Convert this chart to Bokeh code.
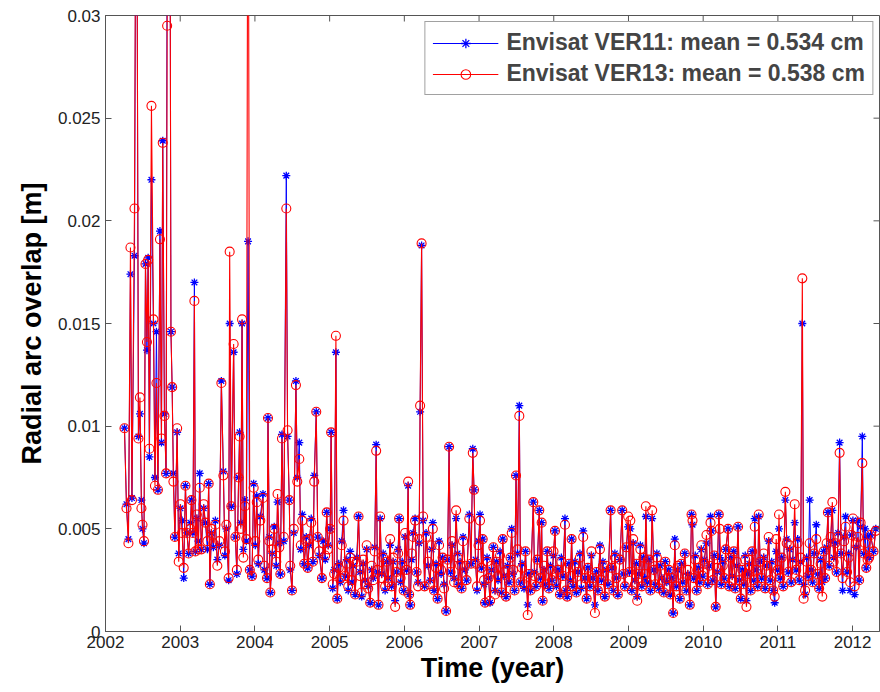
import math
from bokeh.plotting import figure
from bokeh.models import Range1d, FixedTicker, PrintfTickFormatter, Legend, LegendItem
from bokeh.embed import file_html
from bokeh.resources import INLINE

# decimal year of each arc overlap
dates = [
    # 2002
    2002.254, 2002.281, 2002.307, 2002.334, 2002.354, 2002.388, 2002.414, 2002.441, 2002.461, 2002.481,
    2002.495, 2002.515, 2002.535, 2002.555, 2002.571, 2002.588, 2002.615, 2002.642, 2002.662, 2002.682,
    2002.702, 2002.729, 2002.749, 2002.766, 2002.789, 2002.811, 2002.825, 2002.856, 2002.876, 2002.892,
    2002.909, 2002.929, 2002.959, 2002.980,
    # 2003
    2003.003, 2003.025, 2003.047, 2003.070, 2003.090, 2003.112, 2003.136, 2003.150, 2003.170, 2003.190,
    2003.203, 2003.223, 2003.243, 2003.261, 2003.283, 2003.314, 2003.337, 2003.364, 2003.381, 2003.397,
    2003.417, 2003.444, 2003.471, 2003.497, 2003.524, 2003.551, 2003.578, 2003.598, 2003.618, 2003.648,
    2003.662, 2003.684, 2003.715, 2003.738, 2003.758, 2003.782, 2003.795, 2003.811, 2003.828, 2003.845,
    2003.865, 2003.885, 2003.908, 2003.932, 2003.961, 2003.983,
    # 2004
    2004.005, 2004.025, 2004.045, 2004.072, 2004.108, 2004.126, 2004.162, 2004.175, 2004.193, 2004.206,
    2004.233, 2004.259, 2004.286, 2004.303, 2004.326, 2004.340, 2004.362, 2004.386, 2004.420, 2004.437,
    2004.460, 2004.473, 2004.496, 2004.520, 2004.549, 2004.567, 2004.594, 2004.614, 2004.634, 2004.660,
    2004.687, 2004.707, 2004.727, 2004.754, 2004.777, 2004.794, 2004.821, 2004.841, 2004.861, 2004.897,
    2004.914, 2004.941, 2004.961, 2004.981,
    # 2005
    2005.007, 2005.020, 2005.041, 2005.061, 2005.084, 2005.102, 2005.122, 2005.142, 2005.162, 2005.186,
    2005.209, 2005.229, 2005.249, 2005.275, 2005.296, 2005.316, 2005.342, 2005.363, 2005.387, 2005.409,
    2005.429, 2005.449, 2005.476, 2005.496, 2005.516, 2005.543, 2005.563, 2005.583, 2005.603, 2005.623,
    2005.640, 2005.654, 2005.676, 2005.697, 2005.717, 2005.743, 2005.763, 2005.783, 2005.810, 2005.830,
    2005.850, 2005.877, 2005.897, 2005.917, 2005.930, 2005.950, 2005.971, 2005.991,
    # 2006
    2006.011, 2006.031, 2006.051, 2006.064, 2006.078, 2006.098, 2006.118, 2006.144, 2006.164, 2006.184,
    2006.198, 2006.211, 2006.231, 2006.251, 2006.271, 2006.291, 2006.318, 2006.345, 2006.365, 2006.381,
    2006.398, 2006.425, 2006.445, 2006.465, 2006.492, 2006.512, 2006.532, 2006.559, 2006.579, 2006.599,
    2006.619, 2006.639, 2006.666, 2006.693, 2006.713, 2006.723, 2006.746, 2006.766, 2006.786, 2006.813,
    2006.833, 2006.870, 2006.893, 2006.916, 2006.933, 2006.953, 2006.973, 2006.993,
    # 2007
    2007.013, 2007.033, 2007.049, 2007.067, 2007.080, 2007.107, 2007.127, 2007.147, 2007.167, 2007.191,
    2007.214, 2007.234, 2007.254, 2007.281, 2007.301, 2007.317, 2007.334, 2007.361, 2007.381, 2007.401,
    2007.421, 2007.437, 2007.455, 2007.475, 2007.495, 2007.515, 2007.539, 2007.555, 2007.575, 2007.602,
    2007.622, 2007.651, 2007.668, 2007.688, 2007.726, 2007.742, 2007.762, 2007.782, 2007.806, 2007.822,
    2007.838, 2007.851, 2007.869, 2007.889, 2007.913, 2007.936, 2007.956, 2007.976, 2007.996,
    # 2008
    2008.016, 2008.036, 2008.056, 2008.083, 2008.102, 2008.122, 2008.150, 2008.163, 2008.180, 2008.203,
    2008.223, 2008.239, 2008.257, 2008.283, 2008.303, 2008.324, 2008.350, 2008.370, 2008.394, 2008.417,
    2008.440, 2008.457, 2008.484, 2008.504, 2008.524, 2008.551, 2008.571, 2008.591, 2008.618, 2008.638,
    2008.658, 2008.684, 2008.705, 2008.725, 2008.761, 2008.778, 2008.798, 2008.818, 2008.838, 2008.858,
    2008.885, 2008.916, 2008.932, 2008.952, 2008.972, 2008.996,
    # 2009
    2009.012, 2009.025, 2009.045, 2009.063, 2009.086, 2009.106, 2009.117, 2009.139, 2009.159, 2009.179,
    2009.199, 2009.219, 2009.233, 2009.253, 2009.273, 2009.293, 2009.317, 2009.340, 2009.360, 2009.380,
    2009.406, 2009.426, 2009.447, 2009.473, 2009.493, 2009.513, 2009.540, 2009.560, 2009.580, 2009.598,
    2009.620, 2009.640, 2009.660, 2009.687, 2009.707, 2009.727, 2009.754, 2009.774, 2009.794, 2009.821,
    2009.844, 2009.857, 2009.874, 2009.894, 2009.914, 2009.934, 2009.955, 2009.975, 2009.995,
    # 2010
    2010.015, 2010.044, 2010.061, 2010.082, 2010.098, 2010.111, 2010.128, 2010.148, 2010.168, 2010.189,
    2010.209, 2010.222, 2010.242, 2010.262, 2010.282, 2010.302, 2010.333, 2010.349, 2010.369, 2010.389,
    2010.409, 2010.429, 2010.449, 2010.467, 2010.483, 2010.503, 2010.523, 2010.543, 2010.563, 2010.579,
    2010.597, 2010.617, 2010.636, 2010.656, 2010.676, 2010.690, 2010.710, 2010.730, 2010.743, 2010.763,
    2010.783, 2010.810, 2010.830, 2010.850, 2010.877, 2010.897, 2010.917, 2010.937, 2010.957, 2010.977,
    2010.997,
    # 2011
    2011.015, 2011.031, 2011.051, 2011.071, 2011.100, 2011.118, 2011.138, 2011.158, 2011.178, 2011.198,
    2011.225, 2011.245, 2011.265, 2011.285, 2011.305, 2011.327, 2011.344, 2011.364, 2011.385, 2011.405,
    2011.425, 2011.445, 2011.465, 2011.485, 2011.514, 2011.532, 2011.552, 2011.572, 2011.594, 2011.612,
    2011.632, 2011.652, 2011.670, 2011.686, 2011.706, 2011.729, 2011.746, 2011.766, 2011.786, 2011.806,
    2011.826, 2011.846, 2011.866, 2011.886, 2011.906, 2011.926, 2011.947, 2011.967, 2011.987,
    # 2012
    2012.004, 2012.027, 2012.047, 2012.071, 2012.087, 2012.107, 2012.130, 2012.147, 2012.167, 2012.183,
    2012.201, 2012.221, 2012.241, 2012.280, 2012.310,
]

# radial arc overlap, millimetres
ver11_mm = [
    # 2002
    9.9, 6.2, 4.5, 17.4, 6.5, 18.3, 45.0, 9.5, 10.6, 6.4,
    5.0, 4.3, 17.9, 13.7, 18.2, 8.5, 22.0, 15.0, 7.5, 14.6,
    6.9, 19.5, 9.2, 23.9, 10.6, 7.7, 35.0, 50.0, 14.6, 11.9,
    7.7, 4.6, 9.7, 3.8,
    # 2003
    6.0, 5.4, 2.6, 7.1, 4.8, 3.8, 5.3, 6.4, 4.8, 17.0,
    3.9, 5.5, 4.4, 7.7, 4.0, 6.0, 5.3, 4.0, 7.2, 2.3,
    4.8, 4.1, 5.4, 3.5, 4.2, 12.2, 7.8, 3.7, 5.0, 2.5,
    15.0, 6.1, 13.6, 4.6, 2.8, 7.5, 9.7, 5.3, 15.0, 4.0,
    6.4, 4.4, 19.0, 3.0, 2.7, 7.2,
    # 2004
    4.2, 6.6, 3.3, 5.6, 6.7, 3.0, 2.6, 10.4, 4.6, 1.9,
    3.8, 5.1, 3.2, 6.3, 4.3, 2.8, 9.6, 4.4, 22.2, 9.5,
    6.4, 3.0, 2.0, 4.8, 12.2, 7.5, 9.2, 4.0, 5.7, 3.3,
    4.6, 3.1, 4.2, 5.5, 3.4, 7.6, 10.7, 4.6, 3.7, 2.6,
    4.4, 3.5, 5.8, 4.2,
    # 2005
    5.0, 9.7, 2.1, 3.0, 13.6, 1.6, 3.3, 2.4, 4.4, 5.9,
    2.7, 3.5, 2.0, 3.9, 2.4, 3.2, 1.8, 3.6, 5.6, 2.9,
    1.7, 3.3, 2.5, 4.0, 2.2, 1.4, 3.0, 2.6, 4.1, 9.1,
    2.9, 1.3, 5.5, 2.8, 3.8, 2.0, 3.4, 2.6, 4.2, 2.2,
    3.4, 1.5, 2.9, 4.0, 5.5, 2.4, 3.4, 2.0,
    # 2006
    4.6, 3.0, 7.1, 1.8, 1.3, 3.5, 4.8, 5.5, 2.9, 2.4,
    4.3, 10.7, 18.8, 5.4, 2.2, 4.8, 3.2, 2.5, 4.0, 5.3,
    2.0, 3.3, 1.6, 4.4, 2.8, 3.6, 2.3, 1.0, 3.5, 9.0,
    2.9, 4.2, 2.6, 5.5, 3.8, 2.3, 3.4, 2.1, 4.6, 3.0,
    2.5, 5.7, 3.3, 8.9, 6.9, 3.5, 2.0, 4.4,
    # 2007
    5.7, 3.1, 4.5, 2.3, 1.4, 3.6, 2.6, 1.4, 3.0, 4.1,
    2.0, 3.4, 2.5, 3.9, 1.9, 4.5, 2.7, 1.7, 3.2, 2.4,
    3.6, 5.0, 2.8, 2.0, 7.6, 3.8, 11.0, 2.4, 3.3, 2.1,
    3.9, 1.3, 2.8, 2.0, 6.3, 2.9, 2.2, 3.5, 5.9, 2.6,
    5.3, 1.5, 3.0, 2.3, 3.9, 2.1, 3.2, 2.5, 3.7,
    # 2008
    4.9, 2.2, 3.0, 1.8, 3.6, 2.7, 5.5, 2.0, 1.7, 3.3,
    2.5, 4.5, 2.2, 3.4, 1.9, 2.9, 3.8, 2.1, 4.9, 2.6,
    1.6, 3.1, 2.2, 3.7, 2.6, 1.3, 2.9, 2.0, 4.2, 2.5,
    3.4, 1.7, 3.0, 2.3, 5.9, 3.1, 2.0, 3.8, 2.6, 1.8,
    3.5, 5.9, 2.8, 2.2, 4.1, 5.1,
    # 2009
    2.9, 5.0, 2.0, 4.3, 2.5, 3.3, 1.7, 2.8, 4.2, 2.2,
    3.6, 2.6, 5.6, 2.4, 3.5, 2.0, 5.5, 3.0, 2.3, 3.8,
    2.1, 3.2, 2.6, 1.9, 3.4, 2.4, 3.0, 1.8, 2.6, 0.9,
    4.5, 2.2, 3.0, 1.6, 3.3, 2.4, 3.8, 2.0, 2.8, 1.3,
    5.7, 5.2, 2.6, 3.7, 2.0, 3.1, 2.4, 4.0, 2.7,
    # 2010
    3.5, 4.3, 2.3, 3.2, 5.6, 4.9, 2.5, 3.7, 1.2, 2.9,
    5.7, 3.6, 2.3, 3.4, 2.6, 4.0, 5.0, 2.2, 3.6, 2.7,
    3.9, 2.1, 3.2, 5.1, 2.5, 1.6, 3.0, 2.3, 3.7, 1.5,
    2.8, 3.3, 2.0, 3.9, 2.5, 5.5, 3.0, 2.2, 5.6, 3.4,
    2.6, 3.6, 2.1, 3.2, 4.4, 2.5, 3.4, 2.0, 1.4, 3.9,
    3.0,
    # 2011
    5.0, 2.6, 3.6, 2.2, 6.4, 4.5, 2.9, 4.0, 2.4, 3.5,
    5.3, 3.0, 4.5, 2.5, 3.4, 15.0, 2.3, 1.8, 3.6, 2.7,
    6.4, 3.0, 2.4, 3.8, 5.2, 2.8, 2.1, 3.5, 2.4, 3.9,
    2.6, 4.1, 5.8, 3.2, 4.4, 5.9, 3.6, 4.3, 2.9, 4.8,
    9.2, 3.8, 2.0, 4.6, 5.6, 2.9, 3.8, 2.0, 4.7,
    # 2012
    5.4, 1.8, 4.1, 5.4, 2.5, 5.1, 9.5, 3.8, 5.0, 3.1,
    4.6, 3.6, 4.7, 3.9, 5.0,
]

ver13_mm = [
    # 2002
    9.9, 6.0, 4.3, 18.7, 6.4, 20.6, 45.0, 9.4, 11.4, 6.0,
    5.2, 4.4, 17.9, 14.1, 18.1, 8.9, 25.6, 15.2, 7.1, 12.1,
    6.9, 19.1, 9.4, 23.8, 10.5, 7.7, 29.5, 50.0, 14.6, 11.9,
    7.3, 4.6, 9.9, 3.4,
    # 2003
    6.2, 4.8, 3.1, 7.1, 4.8, 3.8, 5.0, 6.4, 4.8, 16.1,
    3.9, 5.7, 4.0, 7.0, 4.0, 6.2, 5.3, 4.4, 7.2, 2.3,
    5.0, 4.3, 5.2, 3.2, 4.4, 12.1, 7.6, 3.9, 5.2, 2.6,
    18.5, 6.1, 14.0, 4.6, 3.0, 7.5, 9.5, 5.0, 15.2, 3.6,
    6.1, 4.5, 45.0, 3.0, 2.7, 7.0,
    # 2004
    4.4, 6.3, 3.5, 5.4, 6.5, 3.2, 2.6, 10.4, 4.4, 1.9,
    4.0, 5.0, 3.4, 6.7, 4.1, 2.8, 9.4, 4.6, 20.6, 9.8,
    6.4, 3.2, 2.0, 5.0, 12.0, 7.3, 8.4, 4.2, 5.4, 3.3,
    4.4, 3.1, 4.5, 5.3, 3.4, 7.3, 10.7, 4.6, 3.9, 2.6,
    4.3, 3.7, 5.8, 4.0,
    # 2005
    5.0, 9.7, 2.3, 2.8, 14.4, 1.6, 3.1, 2.6, 4.2, 5.4,
    2.7, 3.3, 2.2, 3.6, 2.5, 3.4, 1.8, 3.4, 5.6, 2.7,
    1.9, 3.5, 2.3, 4.2, 2.1, 1.4, 3.2, 2.5, 3.9, 8.8,
    3.0, 1.3, 5.6, 2.6, 3.6, 2.2, 3.4, 2.4, 4.5, 2.2,
    3.6, 1.2, 2.9, 3.8, 5.5, 2.6, 3.2, 2.0,
    # 2006
    4.8, 3.0, 7.3, 1.8, 1.3, 3.8, 4.6, 5.4, 2.9, 2.2,
    4.5, 11.0, 18.9, 5.6, 2.2, 4.6, 3.4, 2.3, 4.2, 5.0,
    2.0, 3.1, 1.6, 4.2, 3.0, 3.6, 2.1, 1.0, 3.5, 9.0,
    2.9, 4.4, 2.4, 5.9, 3.6, 2.3, 3.2, 2.1, 4.4, 3.2,
    2.5, 5.5, 3.3, 8.7, 6.9, 3.3, 2.2, 4.2,
    # 2007
    5.4, 3.1, 4.5, 2.5, 1.4, 3.4, 2.6, 1.5, 3.2, 4.1,
    1.8, 3.4, 2.7, 3.7, 1.9, 4.5, 2.9, 1.7, 3.0, 2.4,
    3.6, 4.8, 3.0, 2.0, 7.6, 4.0, 10.5, 2.4, 3.1, 2.3,
    3.9, 0.8, 2.8, 2.0, 6.3, 2.7, 2.2, 3.5, 5.9, 2.6,
    5.3, 1.5, 3.2, 2.3, 3.9, 2.1, 3.0, 2.5, 3.9,
    # 2008
    4.9, 2.4, 3.0, 1.8, 3.4, 2.7, 5.2, 2.0, 1.7, 3.3,
    2.7, 4.5, 2.2, 3.2, 1.9, 2.9, 3.6, 2.3, 4.6, 2.6,
    1.6, 3.1, 2.2, 3.9, 2.6, 0.9, 2.9, 2.0, 4.0, 2.5,
    3.2, 1.7, 3.2, 2.3, 5.9, 3.1, 2.0, 3.6, 2.6, 1.8,
    3.5, 5.9, 2.8, 2.2, 4.1, 5.6,
    # 2009
    2.9, 5.4, 2.0, 4.5, 2.3, 3.3, 1.5, 2.8, 4.0, 2.2,
    3.6, 2.8, 6.1, 2.4, 3.5, 2.0, 5.9, 3.0, 2.3, 3.6,
    2.1, 3.2, 2.4, 1.9, 3.4, 2.6, 3.0, 1.8, 2.6, 0.9,
    4.2, 2.2, 3.2, 1.6, 3.3, 2.4, 3.8, 2.0, 3.0, 1.3,
    5.7, 5.4, 2.6, 3.5, 2.0, 3.1, 2.4, 4.2, 2.7,
    # 2010
    3.3, 4.7, 2.3, 3.2, 5.3, 4.9, 2.5, 3.7, 1.2, 3.1,
    5.7, 5.0, 2.3, 3.2, 2.6, 4.0, 5.0, 2.2, 3.6, 2.5,
    3.9, 2.1, 3.4, 5.1, 2.5, 1.6, 3.0, 2.3, 3.5, 1.2,
    2.8, 3.5, 2.0, 3.9, 2.5, 5.1, 3.0, 2.2, 5.7, 3.4,
    2.6, 3.8, 2.1, 3.2, 4.6, 2.5, 3.2, 2.0, 1.7, 4.5,
    3.0,
    # 2011
    5.7, 2.6, 3.6, 2.2, 6.8, 4.3, 2.9, 4.2, 2.4, 3.3,
    6.2, 3.0, 4.3, 2.5, 3.6, 17.2, 1.6, 2.0, 3.4, 2.7,
    4.3, 3.0, 2.4, 3.8, 4.5, 2.8, 2.1, 3.3, 1.7, 3.9,
    2.6, 4.3, 5.8, 3.2, 4.6, 6.3, 3.4, 4.3, 2.9, 4.6,
    8.7, 3.8, 2.6, 4.4, 5.1, 2.9, 3.6, 2.4, 4.7,
    # 2012
    5.5, 2.2, 4.3, 4.6, 2.5, 5.3, 8.2, 3.8, 4.3, 3.1,
    3.5, 3.6, 4.7, 3.9, 4.9,
]

year_ticks = [2002, 2003, 2004, 2005, 2006, 2007, 2008, 2009, 2010, 2011, 2012]
overlap_ticks = [0, 0.005, 0.01, 0.015, 0.02, 0.025, 0.03]
label11 = "Envisat VER11: mean = 0.534 cm"
label13 = "Envisat VER13: mean = 0.538 cm"

ver11 = [v / 1000 for v in ver11_mm]
ver13 = [v / 1000 for v in ver13_mm]

FONT = "Liberation Sans"
AXC = "#555555"
X0, X1 = 2002, 2012.36
Y0, Y1 = 0, 0.03

p = figure(width=880, height=690, output_backend="svg", toolbar_location=None,
           x_range=Range1d(X0, X1), y_range=Range1d(Y0, Y1),
           min_border_left=105, min_border_right=1, min_border_top=15, min_border_bottom=59,
           background_fill_color="white", border_fill_color="white")
p.grid.visible = False
p.outline_line_color = AXC

l11 = p.line(dates, ver11, line_color="blue", line_width=1)
s11 = p.scatter(dates, ver11, marker="asterisk", size=8, line_color="blue", line_width=1.3)
l13 = p.line(dates, ver13, line_color="red", line_width=1.1)
s13 = p.scatter(dates, ver13, marker="circle", size=9, line_color="red", fill_color=None, line_width=1.1)

# mirrored inward ticks on the top and right edges (half of each dash is clipped by the frame)
p.scatter(year_ticks, [Y1] * len(year_ticks), marker="dash", angle=math.pi / 2, size=12,
          line_color=AXC, line_width=1)
p.scatter([X1] * len(overlap_ticks), overlap_ticks, marker="dash", size=12,
          line_color=AXC, line_width=1)

for ax in (p.xaxis[0], p.yaxis[0]):
    ax.major_tick_in = 6
    ax.major_tick_out = 0
    ax.minor_tick_line_color = None
    ax.axis_line_color = AXC
    ax.major_tick_line_color = AXC
    ax.major_label_text_font = FONT
    ax.major_label_text_font_size = "17px"
    ax.major_label_text_color = "#222222"
    ax.axis_label_text_font = FONT
    ax.axis_label_text_font_size = "27px"
    ax.axis_label_text_font_style = "bold"
    ax.axis_label_text_color = "black"

p.xaxis.ticker = FixedTicker(ticks=year_ticks)
p.yaxis.ticker = FixedTicker(ticks=overlap_ticks)
p.yaxis.formatter = PrintfTickFormatter(format="%g")
p.xaxis.axis_label = "Time (year)"
p.yaxis.axis_label = "Radial arc overlap [m]"
p.xaxis.major_label_standoff = 4
p.xaxis.axis_label_standoff = 2
p.yaxis.major_label_standoff = 5
p.yaxis.axis_label_standoff = 8

legend = Legend(items=[LegendItem(label=label11, renderers=[l11, s11]),
                       LegendItem(label=label13, renderers=[l13, s13])],
                location="top_right", margin=6, padding=7, spacing=4,
                label_text_font=FONT, label_text_font_size="23px", label_text_font_style="bold",
                glyph_width=66, glyph_height=24, label_height=24, label_standoff=8,
                border_line_color="#444444", border_line_width=1.2,
                background_fill_color="white", background_fill_alpha=1.0)
p.add_layout(legend, "center")

open("out.html", "w").write(file_html(p, INLINE))
